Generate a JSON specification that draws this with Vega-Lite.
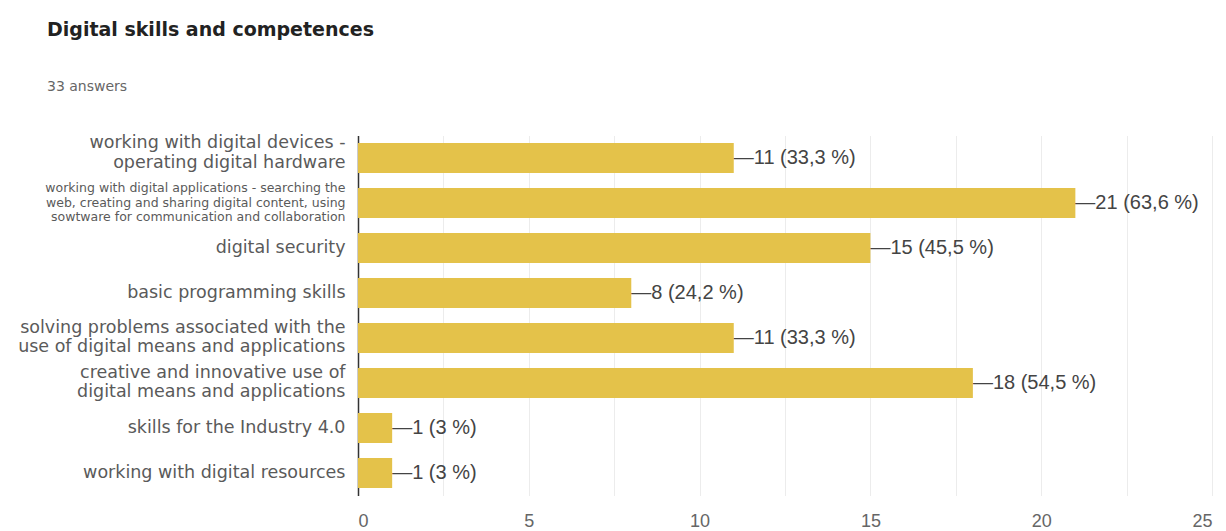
{
  "$schema": "https://vega.github.io/schema/vega-lite/v6.json",
  "autosize": {"type": "none"},
  "width": 854,
  "height": 360,
  "padding": {"left": 358, "top": 135.5, "right": 14, "bottom": 35.5},
  "background": "white",
  "title": {
    "text": "Digital skills and competences",
    "subtitle": "33 answers",
    "anchor": "start",
    "frame": "group",
    "dx": -311,
    "offset": 40,
    "font": "DejaVu Sans",
    "fontSize": 19,
    "fontWeight": "bold",
    "color": "#222222",
    "subtitleFont": "DejaVu Sans",
    "subtitleFontSize": 14,
    "subtitleColor": "#666666",
    "subtitlePadding": 40
  },
  "data": {
    "values": [
      {"skill": "working with digital devices -|operating digital hardware", "count": 11, "label": "11 (33,3 %)"},
      {"skill": "working with digital applications - searching the|web, creating and sharing digital content, using|sowtware for communication and collaboration", "count": 21, "label": "21 (63,6 %)"},
      {"skill": "digital security", "count": 15, "label": "15 (45,5 %)"},
      {"skill": "basic programming skills", "count": 8, "label": "8 (24,2 %)"},
      {"skill": "solving problems associated with the|use of digital means and applications", "count": 11, "label": "11 (33,3 %)"},
      {"skill": "creative and innovative use of|digital means and applications", "count": 18, "label": "18 (54,5 %)"},
      {"skill": "skills for the Industry 4.0", "count": 1, "label": "1 (3 %)"},
      {"skill": "working with digital resources", "count": 1, "label": "1 (3 %)"}
    ]
  },
  "transform": [{"calculate": "'—' + datum.label", "as": "display"}],
  "encoding": {
    "y": {
      "field": "skill",
      "type": "nominal",
      "sort": null,
      "scale": {"paddingInner": 0.333, "paddingOuter": 0.167},
      "axis": {
        "title": null,
        "ticks": false,
        "domain": true,
        "domainColor": "#333333",
        "domainWidth": 1.5,
        "grid": false,
        "labelPadding": 13,
        "labelLimit": 400,
        "labelFont": "DejaVu Sans",
        "labelColor": "#5a5a5a",
        "labelExpr": "split(datum.label, '|')",
        "labelFontSize": {"condition": {"test": "indexof(datum.value, 'searching') >= 0", "value": 12.5}, "value": 17.5},
        "labelOffset": {"condition": [
          {"test": "indexof(datum.value, 'searching') >= 0", "value": -15},
          {"test": "indexof(datum.value, 'devices') >= 0", "value": -15},
          {"test": "indexof(datum.value, '|') >= 0", "value": -10}
        ], "value": 0},
        "encode": {"labels": {"update": {
          "lineHeight": {"signal": "indexof(datum.value, 'searching') >= 0 ? 12.5 : 20"}
        }}}
      }
    },
    "x": {
      "field": "count",
      "type": "quantitative",
      "scale": {"domain": [0, 25], "nice": false},
      "axis": {
        "title": null,
        "values": [0, 2.5, 5, 7.5, 10, 12.5, 15, 17.5, 20, 22.5, 25],
        "labelExpr": "datum.value % 5 === 0 ? datum.label : ''",
        "domain": false,
        "ticks": false,
        "grid": true,
        "gridColor": "#ececec",
        "labelFont": "Liberation Sans",
        "labelFontSize": 18,
        "labelColor": "#666666",
        "labelPadding": 17
      }
    }
  },
  "layer": [
    {"mark": {"type": "bar", "color": "#E4C24A"}},
    {
      "mark": {"type": "text", "align": "left", "baseline": "middle", "dx": 0, "font": "Liberation Sans", "fontSize": 20, "color": "#444444"},
      "encoding": {"text": {"field": "display"}}
    }
  ],
  "config": {"view": {"stroke": null}}
}
